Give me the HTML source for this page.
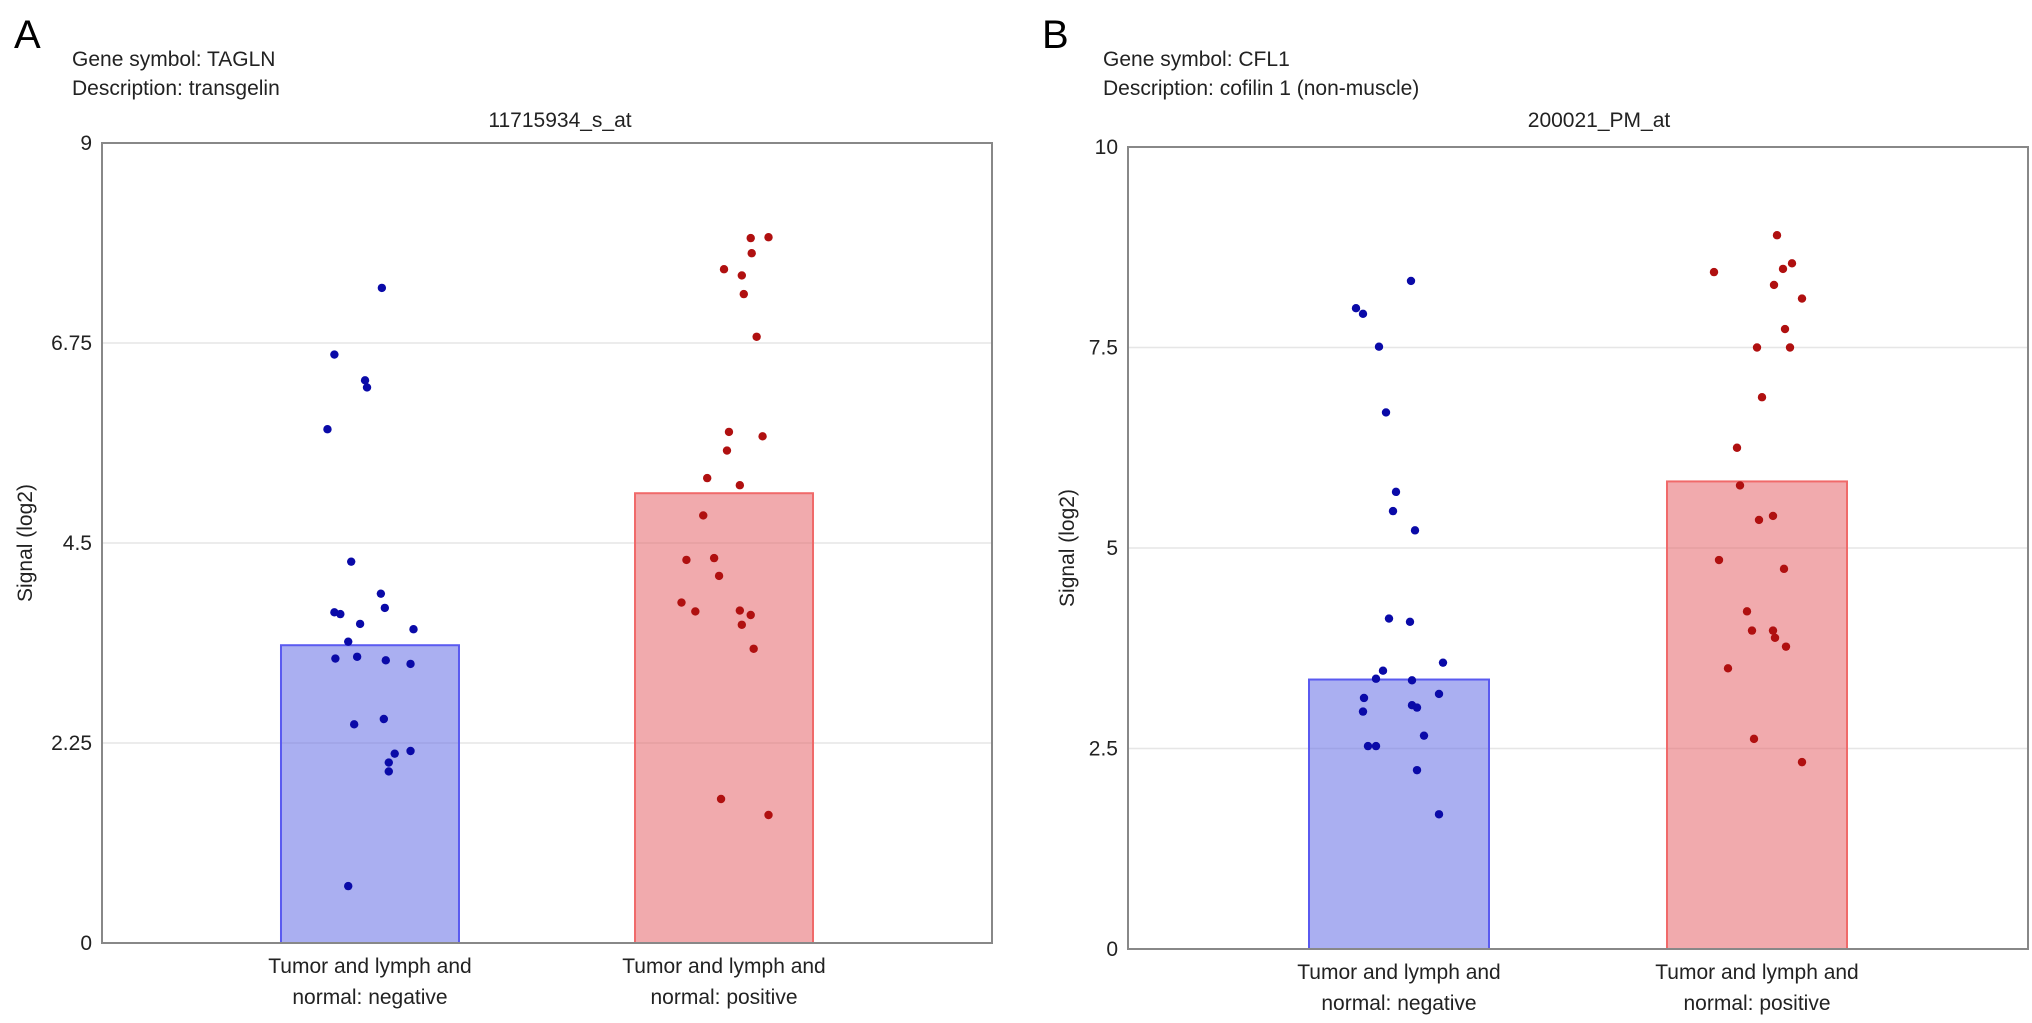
<!DOCTYPE html>
<html><head><meta charset="utf-8"><style>
html,body{margin:0;padding:0;background:#fff;}
svg{display:block;font-family:"Liberation Sans",Arial,sans-serif;}
</style></head><body>
<svg id="fig" width="2032" height="1023" viewBox="0 0 2032 1023"></svg>
<script>
const categories = ["Tumor and lymph and|normal: negative", "Tumor and lymph and|normal: positive"];
const barMeansA = [3.35, 5.06];
const negValuesA = [7.37,6.62,6.33,6.25,5.78,4.29,3.93,3.77,3.72,3.70,3.59,3.53,3.39,3.20,3.22,3.18,3.14,2.46,2.52,2.16,2.13,2.03,1.93,0.64];
const negJitterA = [12,-36,-5,-3,-43,-19,11,15,-36,-30,-10,44,-22,-35,-13,16,41,-16,14,41,25,19,19,-22];
const posValuesA = [7.94,7.93,7.76,7.58,7.51,7.30,6.82,5.75,5.70,5.54,5.23,5.15,4.81,4.31,4.33,4.13,3.83,3.73,3.74,3.69,3.58,3.31,1.62,1.44];
const posJitterA = [45,27,28,0,18,20,33,5,39,3,-17,16,-21,-38,-10,-5,-43,-29,16,27,18,30,-3,45];
const ticksA = [0, 2.25, 4.5, 6.75, 9];
const tickLabelsA = ["0","2.25","4.5","6.75","9"];
const barMeansB = [3.36, 5.83];
const negValuesB = [8.33,7.99,7.92,7.51,6.69,5.70,5.46,5.22,4.12,4.08,3.57,3.47,3.37,3.35,3.13,3.18,2.96,3.04,3.01,2.53,2.53,2.66,2.23,1.68];
const negJitterB = [12,-43,-36,-20,-13,-3,-6,16,-10,11,44,-16,-23,13,-35,40,-36,13,18,-31,-23,25,18,40];
const posValuesB = [8.90,8.44,8.55,8.48,8.28,8.11,7.73,7.50,7.50,6.88,6.25,5.78,5.40,5.35,4.85,4.74,4.21,3.97,3.97,3.88,3.77,3.50,2.62,2.33];
const posJitterB = [20,-43,35,26,17,45,28,0,33,5,-20,-17,16,2,-38,27,-10,-5,16,18,29,-29,-3,45];
const ticksB = [0, 2.5, 5, 7.5, 10];
const tickLabelsB = ["0","2.5","5","7.5","10"];

const NS = "http://www.w3.org/2000/svg";
const svg = document.getElementById("fig");
function mk(tag, attrs, parent, text){
  const e = document.createElementNS(NS, tag);
  for (const k in attrs) e.setAttribute(k, attrs[k]);
  if (text !== undefined) e.textContent = text;
  (parent||svg).appendChild(e);
  return e;
}
function panel(p){
  const g = mk("g", {});
  
  
  const L=p.left,R=p.right,T=p.top,B=p.bottom;
  const y = v => B - (v - p.ymin)/(p.ymax - p.ymin)*(B - T);
  const cx = i => (L+R)/2 + (i - 0.5)*358*(R-L)/900;
  let t = mk("text",{x:p.letterX,y:48,"font-size":40,fill:"#000"},g,p.letter);
  
  
  t = mk("text",{x:p.textX,y:66,"font-size":21,fill:"#222"},g,"Gene symbol: "+p.gene);
  
  
  t = mk("text",{x:p.textX,y:95,"font-size":21,fill:"#222"},g,"Description: "+p.desc);
  
  
  t = mk("text",{x:p.titleX,y:127,"font-size":21,fill:"#222","text-anchor":"middle"},g,p.title);
  
  
  p.ticks.forEach((v,i)=>{
    if (v>p.ymin && v<p.ymax){
      const l = mk("line",{x1:L,x2:R,y1:y(v),y2:y(v),stroke:"#e6e6e6","stroke-width":1.5},g);
      
      
    }
    const tl = mk("text",{x:L-10,y:y(v)+7,"font-size":21,fill:"#222","text-anchor":"end"},g,p.tickLabels[i]);
    
    
  });
  const bw = 180*(R-L)/900;
  const fills = ["rgba(100,110,230,0.55)","rgba(230,100,105,0.55)"];
  const strokes = ["#5a5af0","#f06a6a"];
  p.means.forEach((m,i)=>{
    const r = mk("rect",{x:cx(i)-bw/2,y:y(m),width:bw,height:B-y(m),fill:fills[i],stroke:strokes[i],"stroke-width":2},g);
    
    
  });
  const sets = [[p.negV,p.negJ,"#0a0aa8"],[p.posV,p.posJ,"#b01010"]];
  sets.forEach((s,i)=>{
    s[0].forEach((v,j)=>{
      const c = mk("circle",{cx:cx(i)+s[1][j]*(R-L)/900,cy:y(v),r:4.2,fill:s[2]},g);
      
      
    });
  });
  const fr = mk("rect",{x:L,y:T,width:R-L,height:B-T,fill:"none",stroke:"#888","stroke-width":2},g);
  
  
  categories.forEach((c,i)=>{
    const parts = c.split("|");
    parts.forEach((s,k)=>{
      const tx = mk("text",{x:cx(i),y:B+30+k*31,"font-size":21,fill:"#222","text-anchor":"middle"},g,s);
      
      
    });
  });
  const yl = mk("text",{x:0,y:0,"font-size":21,fill:"#222","text-anchor":"middle",transform:`translate(${p.ylabX},${(T+B)/2}) rotate(-90)`},g,"Signal (log2)");
  
  
}
panel({letter:"A",letterX:14,textX:72,titleX:560,gene:"TAGLN",desc:"transgelin",title:"11715934_s_at",
  left:102,right:992,top:143,bottom:943,ymin:0,ymax:9,ticks:ticksA,tickLabelsA:0,tickLabels:tickLabelsA,ylabX:32,
  means:barMeansA,negV:negValuesA,negJ:negJitterA,posV:posValuesA,posJ:posJitterA});
panel({letter:"B",letterX:1042,textX:1103,titleX:1599,gene:"CFL1",desc:"cofilin 1 (non-muscle)",title:"200021_PM_at",
  left:1128,right:2028,top:147,bottom:949,ymin:0,ymax:10,ticks:ticksB,tickLabels:tickLabelsB,ylabX:1074,
  means:barMeansB,negV:negValuesB,negJ:negJitterB,posV:posValuesB,posJ:posJitterB});
</script>
</body></html>
